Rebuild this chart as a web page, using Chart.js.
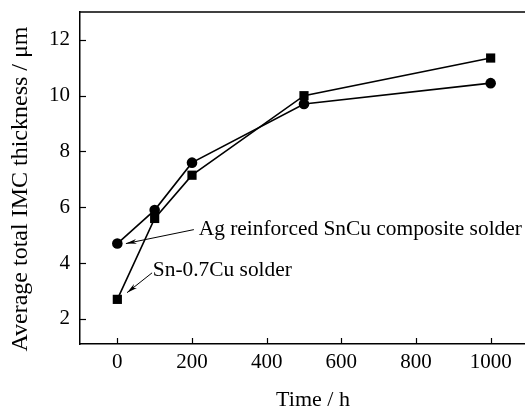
<!DOCTYPE html>
<html>
<head>
<meta charset="utf-8">
<script src="https://cdn.jsdelivr.net/npm/chart.js@4"></script>
<style>
html,body{margin:0;padding:0;background:#fff;}
#wrap{width:525px;height:412px;position:relative;}
</style>
</head>
<body>
<div id="wrap"><canvas id="c" width="525" height="412"></canvas></div>
<script>
// Data
const times = [0, 100, 200, 500, 1000];
const snCu = [2.7, 5.6, 7.15, 10.0, 11.35];          // squares: Sn-0.7Cu solder
const agSnCu = [4.7, 5.9, 7.6, 9.7, 10.45];          // circles: Ag reinforced SnCu composite solder
const xTicks = [0, 200, 400, 600, 800, 1000];
const yTicks = [2, 4, 6, 8, 10, 12];
const seriesLabels = ['Sn-0.7Cu solder', 'Ag reinforced SnCu composite solder'];
const xTitle = 'Time / h';
const yTitle = 'Average total IMC thickness / μm';
// Annotations (data coordinates): text anchor, arrow start, arrow tip
const annotations = [
  {text: seriesLabels[1], tx: 218, ty: 5.2, x0: 205, y0: 5.2, x1: 23, y1: 4.7},
  {text: seriesLabels[0], tx: 95, ty: 3.73, x0: 93, y0: 3.65, x1: 26, y1: 2.94}
];

const FONT = "'Liberation Serif', 'Times New Roman', serif";

const decor = {
  id: 'decor',
  afterDraw(chart) {
    const ctx = chart.ctx, a = chart.chartArea;
    const xs = chart.scales.x, ys = chart.scales.y;
    ctx.save();
    ctx.strokeStyle = '#000';
    ctx.lineWidth = 1.5;
    // top border
    ctx.beginPath();
    ctx.moveTo(a.left, a.top); ctx.lineTo(a.right, a.top);
    ctx.stroke();
    // inward ticks
    ctx.lineWidth = 1.2;
    xTicks.forEach(v => {
      const px = Math.round(xs.getPixelForValue(v)) + 0.5;
      ctx.beginPath(); ctx.moveTo(px, a.bottom); ctx.lineTo(px, a.bottom - 6); ctx.stroke();
    });
    yTicks.forEach(v => {
      const py = Math.round(ys.getPixelForValue(v)) + 0.5;
      ctx.beginPath(); ctx.moveTo(a.left, py); ctx.lineTo(a.left + 6, py); ctx.stroke();
    });
    // axis titles
    ctx.fillStyle = '#000';
    ctx.textAlign = 'center';
    ctx.textBaseline = 'middle';
    ctx.font = '22px ' + FONT;
    ctx.fillText(xTitle, 313, 400);
    ctx.save();
    ctx.translate(21, 189);
    ctx.rotate(-Math.PI / 2);
    ctx.font = '24px ' + FONT;
    ctx.fillText(yTitle, 0, 0);
    ctx.restore();
    // annotations
    ctx.font = '21.4px ' + FONT;
    ctx.textBaseline = 'middle';
    ctx.textAlign = 'left';
    annotations.forEach(an => {
      const tx = xs.getPixelForValue(an.tx), ty = ys.getPixelForValue(an.ty);
      ctx.fillText(an.text, tx, ty);
      const x0 = xs.getPixelForValue(an.x0), y0 = ys.getPixelForValue(an.y0);
      const x1 = xs.getPixelForValue(an.x1), y1 = ys.getPixelForValue(an.y1);
      ctx.lineWidth = 1;
      ctx.beginPath(); ctx.moveTo(x0, y0); ctx.lineTo(x1, y1); ctx.stroke();
      const ang = Math.atan2(y1 - y0, x1 - x0);
      const L = 11, w = 0.22;
      ctx.beginPath();
      ctx.moveTo(x1, y1);
      ctx.lineTo(x1 - L * Math.cos(ang - w), y1 - L * Math.sin(ang - w));
      ctx.lineTo(x1 - L * 0.7 * Math.cos(ang), y1 - L * 0.7 * Math.sin(ang));
      ctx.lineTo(x1 - L * Math.cos(ang + w), y1 - L * Math.sin(ang + w));
      ctx.closePath();
      ctx.fill();
    });
    ctx.restore();
  }
};

new Chart(document.getElementById('c'), {
  type: 'line',
  data: {
    datasets: [
      {
        label: seriesLabels[1],
        data: times.map((t, i) => ({x: t, y: agSnCu[i]})),
        borderColor: '#000', backgroundColor: '#000', borderWidth: 1.6,
        pointStyle: 'circle', pointRadius: 5.3, pointBorderWidth: 0,
        pointBackgroundColor: '#000', tension: 0, clip: false
      },
      {
        label: seriesLabels[0],
        data: times.map((t, i) => ({x: t, y: snCu[i]})),
        borderColor: '#000', backgroundColor: '#000', borderWidth: 1.6,
        pointStyle: 'rect', pointRadius: 6.5, pointBorderWidth: 0,
        pointBackgroundColor: '#000', tension: 0, clip: false
      }
    ]
  },
  options: {
    responsive: false,
    animation: false,
    layout: {autoPadding: false, padding: {top: 12, right: 0, left: 0, bottom: 0}},
    plugins: {legend: {display: false}, tooltip: {enabled: false}},
    scales: {
      x: {
        type: 'linear', min: -100, max: 1092,
        afterBuildTicks: s => { s.ticks = xTicks.map(v => ({value: v})); },
        afterFit: s => { s.height = 68; s.paddingLeft = 0; s.paddingRight = 0; },
        grid: {display: false, drawTicks: false},
        border: {display: true, color: '#000', width: 1.5},
        ticks: {color: '#000', font: {family: FONT, size: 21}, padding: 6, maxRotation: 0,
                callback: v => String(v)},
        title: {display: false}
      },
      y: {
        type: 'linear', min: 1.1, max: 13,
        afterBuildTicks: s => { s.ticks = yTicks.map(v => ({value: v})); },
        afterFit: s => { s.width = 80; s.paddingTop = 0; s.paddingBottom = 0; },
        grid: {display: false, drawTicks: false},
        border: {display: true, color: '#000', width: 1.5},
        ticks: {color: '#000', font: {family: FONT, size: 21}, padding: 10,
                callback: v => String(v)},
        title: {display: false}
      }
    }
  },
  plugins: [decor]
});
</script>
</body>
</html>
